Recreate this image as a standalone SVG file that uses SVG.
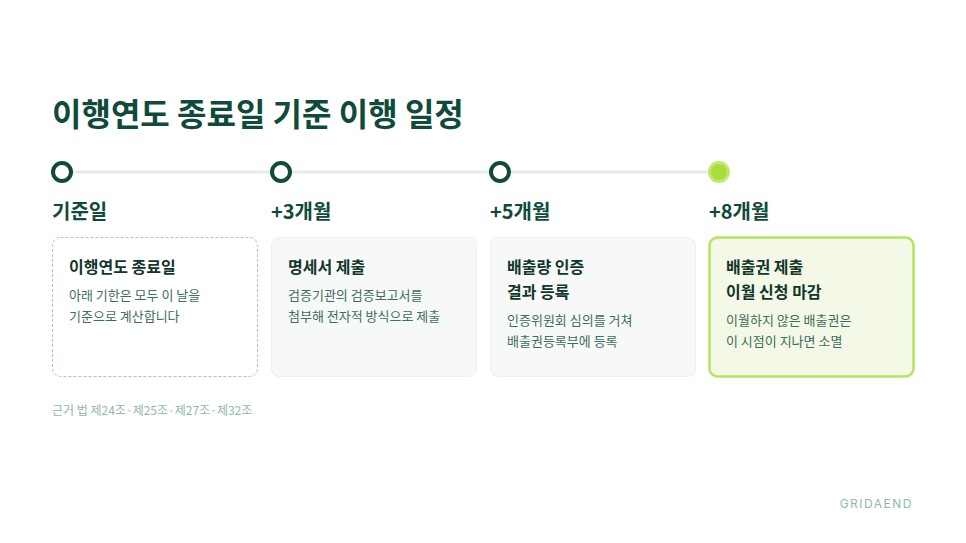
<svg xmlns="http://www.w3.org/2000/svg" width="966" height="543" viewBox="0 0 966 543">
<style>
text{font-family:"Noto Sans CJK KR","Noto Sans",sans-serif;fill:#0f4a3a}
.t{font-size:32px;font-weight:700}
.lb{font-size:20px;font-weight:700}
.ct{font-size:16px;font-weight:700;fill:#12352c}
.cb{font-size:13px;fill:#3f6d60}
.card{fill:#f6f9f8;stroke:#eaf0ee;stroke-width:1}
.dot{fill:#fff;stroke:#0f4a3a;stroke-width:4}
</style>
<rect width="966" height="543" fill="#fff"/>
<text class="t" x="52" y="126">이행연도 종료일 기준 이행 일정</text>
<g id="connectors"><line x1="62" y1="172" x2="719" y2="172" stroke="#e6ebe9" stroke-width="3"/></g>
<g id="n1">
<circle cx="62" cy="172" r="9" class="dot" stroke="#86b9a6"/>
<text class="lb" x="52" y="219">기준일</text>
<rect x="52.5" y="237.5" width="205" height="139" rx="8" fill="#fff" stroke="#a9c9bd" stroke-dasharray="3 2"/>
<text class="ct" x="69" y="273">이행연도 종료일</text>
<text class="cb" x="69" y="300">아래 기한은 모두 이 날을</text>
<text class="cb" x="69" y="321">기준으로 계산합니다</text>
</g>
<g id="n2">
<circle cx="281" cy="172" r="9" class="dot"/>
<text class="lb" x="271" y="219">+3개월</text>
<rect x="271.5" y="237.5" width="205" height="139" rx="8" class="card"/>
<text class="ct" x="288" y="273">명세서 제출</text>
<text class="cb" x="288" y="300">검증기관의 검증보고서를</text>
<text class="cb" x="288" y="321">첨부해 전자적 방식으로 제출</text>
</g>
<g id="n3">
<circle cx="500" cy="172" r="9" class="dot"/>
<text class="lb" x="490" y="219">+5개월</text>
<rect x="490.5" y="237.5" width="205" height="139" rx="8" class="card"/>
<text class="ct" x="507" y="273">배출량 인증</text>
<text class="ct" x="507" y="298">결과 등록</text>
<text class="cb" x="507" y="325">인증위원회 심의를 거쳐</text>
<text class="cb" x="507" y="346">배출권등록부에 등록</text>
</g>
<g id="n4">
<circle cx="719" cy="172" r="9.5" fill="#a9dc3c" stroke="#c2e86a" stroke-width="3"/>
<text class="lb" x="709" y="219">+8개월</text>
<rect x="709.5" y="237.5" width="204" height="139" rx="8" fill="#f3f9e6" stroke="#b5e35a" stroke-width="2.5"/>
<text class="ct" x="726" y="273">배출권 제출</text>
<text class="ct" x="726" y="298">이월 신청 마감</text>
<text class="cb" x="726" y="325">이월하지 않은 배출권은</text>
<text class="cb" x="726" y="346">이 시점이 지나면 소멸</text>
</g>
<text x="52" y="415" font-size="12" style="fill:#8fb8a8">근거 법 제24조·제25조·제27조·제32조</text>
<text x="913" y="508" font-size="12" text-anchor="end" letter-spacing="1.5" style="fill:#8fb8a8;font-family:Inter,sans-serif">GRIDAEND</text>
</svg>
